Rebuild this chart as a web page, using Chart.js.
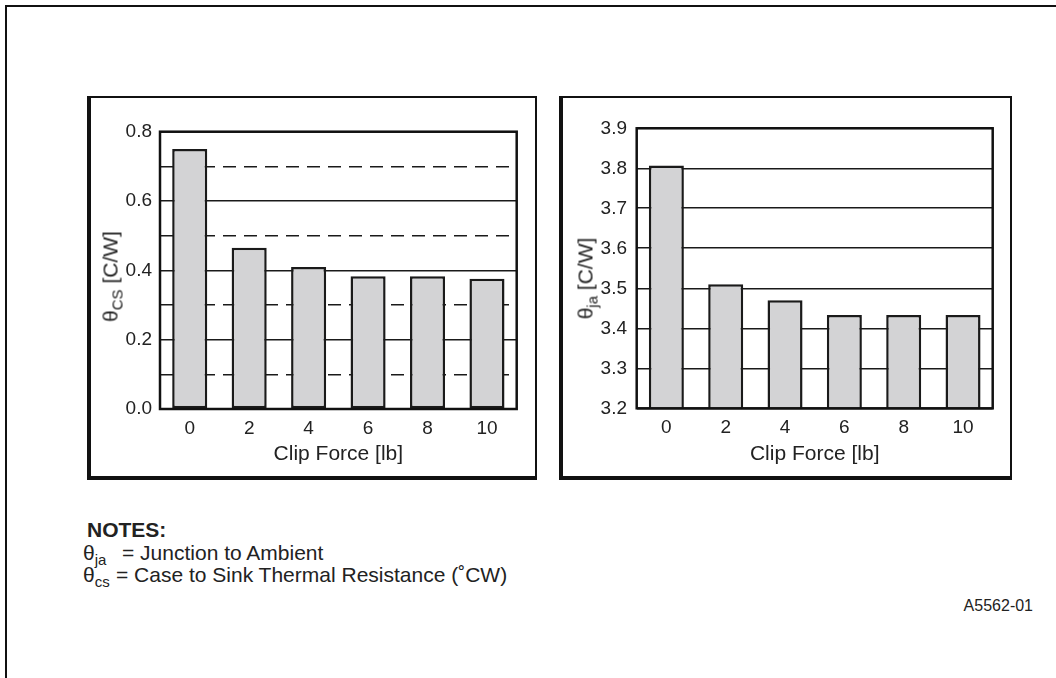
<!DOCTYPE html>
<html>
<head>
<meta charset="utf-8">
<script src="https://cdn.jsdelivr.net/npm/chart.js@4.4.1/dist/chart.umd.min.js"></script>
<style>
  html, body { margin:0; padding:0; background:#fff; }
  body { width:1056px; height:678px; position:relative; overflow:hidden;
         font-family:"Liberation Sans", Arial, sans-serif; color:#222; }
  .page-frame { position:absolute; left:5px; top:5px; width:1200px; height:800px;
                border-top:2px solid #111; border-left:2px solid #111; }
  .box { position:absolute; box-sizing:border-box; border:2px solid #111;
         border-left-width:4px; border-bottom-width:4px; }
  canvas { position:absolute; }
  .ytitle { position:absolute; width:200px; height:21px; line-height:21px; font-size:21px;
            text-align:center; transform:rotate(-90deg); white-space:nowrap; }
  .sub { font-size:15px; position:relative; top:5px; }
  .note { position:absolute; font-size:21px; line-height:21px; white-space:nowrap; }
</style>
</head>
<body>
<div class="page-frame"></div>

<div class="box" style="left:87px;top:96px;width:450px;height:384px"></div>
<canvas id="cs-chart" width="450" height="384" style="left:87px;top:96px"></canvas>
<div class="ytitle" style="left:9.5px;top:266px">θ<span class="sub">CS</span> [C/W]</div>

<div class="box" style="left:559px;top:96px;width:453px;height:384px"></div>
<canvas id="ja-chart" width="453" height="384" style="left:559px;top:96px"></canvas>
<div class="ytitle" style="left:484.5px;top:267.5px">θ<span class="sub">ja</span> [C/W]</div>

<div class="note" style="left:87px;top:518.5px;font-weight:bold">NOTES:</div>
<div class="note" style="left:83px;top:542px">θ<span class="sub">ja</span></div>
<div class="note" style="left:122px;top:542px">= Junction to Ambient</div>
<div class="note" style="left:83px;top:564px">θ<span class="sub">cs</span></div>
<div class="note" style="left:116px;top:564px">= Case to Sink Thermal Resistance (˚CW)</div>
<div class="note" style="right:23px;top:597.5px;font-size:16px;line-height:16px">A5562-01</div>

<script>
// clip force categories and thermal resistance
const clipForce = ['0', '2', '4', '6', '8', '10'];
const thetaCs = [0.75, 0.465, 0.41, 0.383, 0.383, 0.376];
const thetaJa = [3.807, 3.51, 3.47, 3.433, 3.433, 3.433];
const csTicks = [0, 0.2, 0.4, 0.6, 0.8];
const csDashTicks = [0.1, 0.3, 0.5, 0.7];
const jaTicks = [3.2, 3.3, 3.4, 3.5, 3.6, 3.7, 3.8, 3.9];

Chart.defaults.font.family = '"Liberation Sans", Arial, sans-serif';
Chart.defaults.color = '#222';

// heavy frame round the plot area
const frame = {
    id: 'frame',
    afterDatasetsDraw(chart){
        const a = chart.chartArea, ctx = chart.ctx;
        ctx.save();
        ctx.strokeStyle = '#111';
        ctx.lineWidth = 2.5;
        ctx.strokeRect(a.left, a.top, a.right - a.left, a.bottom - a.top);
        ctx.restore();
    }
};

function barChart(id, values, ticks, dashTicks, pad, xHeight, tickPad){
    var lo = ticks[0], hi = ticks[ticks.length - 1];
    var scales = {
        x: {
            grid: { display: false },
            border: { display: false },
            ticks: { padding: 0, font: { size: 19 } },
            title: { display: true, text: 'Clip Force [lb]', font: { size: 21 },
                     padding: { top: 0, bottom: 13 } },
            afterFit: s => { s.height = xHeight; }
        },
        y: {
            min: lo, max: hi,
            afterBuildTicks: s => { s.ticks = ticks.map(v => ({ value: v })); },
            afterFit: s => { s.width = 40; },
            grid: { color: '#1a1a1a', lineWidth: 1.6, drawTicks: false },
            border: { display: false },
            ticks: { padding: tickPad, font: { size: 19 },
                     callback: v => Number(v).toFixed(1) }
        }
    };
    if(dashTicks){
        // second axis only for the dashed half-step lines
        scales.y2 = {
            position: 'right', min: lo, max: hi,
            afterBuildTicks: s => { s.ticks = dashTicks.map(v => ({ value: v })); },
            afterFit: s => { s.width = 0; },
            grid: { color: '#1a1a1a', lineWidth: 1.6, drawTicks: false },
            border: { display: false, dash: [13, 8] },
            ticks: { display: false }
        };
    }
    return new Chart(id, {
        type: 'bar',
        data: {
            labels: clipForce,
            datasets: [{
                data: values,
                backgroundColor: '#d3d3d5',
                borderColor: '#1a1a1a',
                borderWidth: 2.5,
                borderSkipped: false,
                barPercentage: 0.59,
                categoryPercentage: 1
            }]
        },
        options: {
            responsive: false,
            animation: false,
            layout: { padding: pad },
            scales: scales,
            plugins: {
                legend: { display: false },
                tooltip: { enabled: false }
            }
        },
        plugins: [frame]
    });
}

barChart('cs-chart', thetaCs, csTicks, csDashTicks,
         { left: 33, top: 35.7, right: 20.3, bottom: 0 }, 71, 8);
barChart('ja-chart', thetaJa, jaTicks, null,
         { left: 37.7, top: 32.3, right: 19.3, bottom: 0 }, 71.7, 9.7);
</script>
</body>
</html>
